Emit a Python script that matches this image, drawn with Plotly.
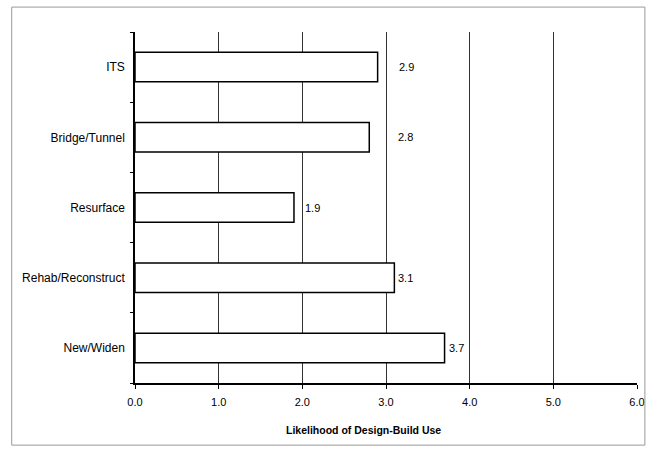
import plotly.graph_objects as go

categories = ["New/Widen", "Rehab/Reconstruct", "Resurface", "Bridge/Tunnel", "ITS"]
values = [3.7, 3.1, 1.9, 2.8, 2.9]
value_labels = ["3.7", "3.1", "1.9", "2.8", "2.9"]
label_gaps = [2, 2, 9, 27, 19]  # pixel gap between bar end and its label
x_ticks = [0, 1, 2, 3, 4, 5, 6]
x_title = "Likelihood of Design-Build Use"

FONT = "Liberation Sans, Arial"

fig = go.Figure(go.Bar(
    x=values, y=categories, orientation="h",
    marker=dict(color="white", line=dict(color="black", width=1.5)),
    hoverinfo="x+y",
))

annotations = [
    dict(x=v, y=c, text=t, xref="x", yref="y", showarrow=False,
         xanchor="left", xshift=g, font=dict(family=FONT, size=11, color="black"))
    for v, c, t, g in zip(values, categories, value_labels, label_gaps)
]
annotations.append(dict(text="<b>" + x_title + "</b>", xref="paper", yref="paper",
                        x=0.455, y=-0.158, showarrow=False,
                        font=dict(family=FONT, size=10.5, color="black")))

fig.update_layout(
    width=657, height=455,
    margin=dict(l=135, r=13, t=32, b=72),
    paper_bgcolor="white", plot_bgcolor="white",
    bargap=0.58, showlegend=False,
    font=dict(family=FONT, size=11, color="black"),
    shapes=[dict(type="rect", xref="paper", yref="paper",
                 x0=-0.2456, y0=-0.177, x1=1.0157, y1=1.071,
                 line=dict(color="#999999", width=1))],
    annotations=annotations,
)

fig.update_xaxes(
    range=[0, 6], tickvals=x_ticks, tickformat=".1f",
    showgrid=True, gridcolor="#333333", gridwidth=1,
    showline=True, linecolor="black", linewidth=1.5,
    ticks="outside", ticklen=4, tickcolor="black",
    zeroline=False, tickfont=dict(size=11), ticklabelstandoff=4,
)
fig.update_yaxes(
    showline=True, linecolor="black", linewidth=1.5,
    ticks="outside", ticklen=3, tickson="boundaries", tickcolor="black",
    showgrid=False, tickfont=dict(size=12), ticklabelstandoff=6,
)

fig.write_html("out.html", config={"displayModeBar": False},
               post_script="document.body.style.margin='0';")
